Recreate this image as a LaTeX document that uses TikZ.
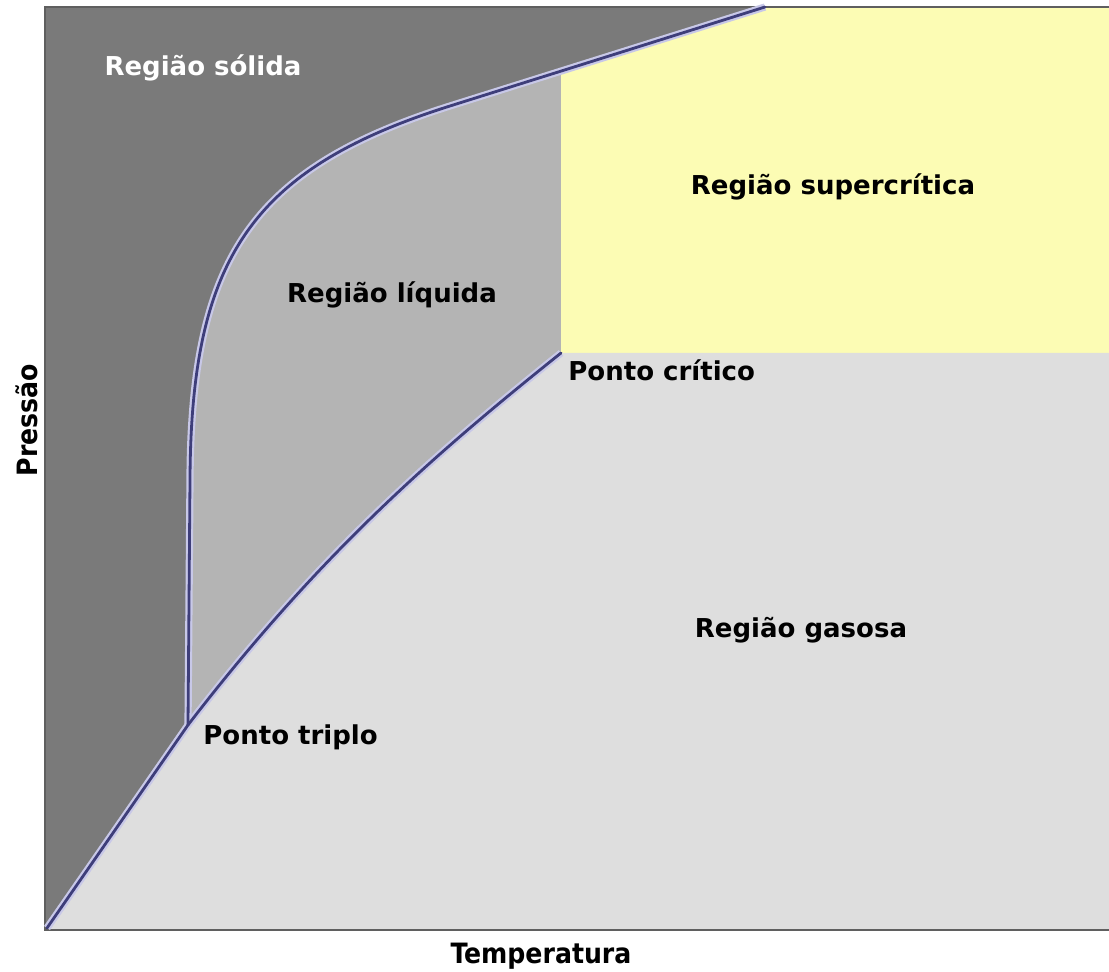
\documentclass[tikz,border=0pt]{standalone}
\usepackage{fontspec}
\setmainfont{DejaVu Sans}
\newfontfamily\condfont{DejaVu Sans Condensed}
\definecolor{solidgray}{RGB}{122,122,122}
\definecolor{liquidgray}{RGB}{180,180,180}
\definecolor{gasgray}{RGB}{222,222,222}
\definecolor{superyellow}{RGB}{252,252,180}
\definecolor{curveblue}{RGB}{62,62,122}
\definecolor{halolav}{RGB}{200,200,232}
\definecolor{framegray}{RGB}{95,95,95}
\begin{document}
\begin{tikzpicture}[x=0.5pt, y=-0.5pt,
    region/.style={font=\bfseries\fontsize{13}{15}\selectfont, text=black, inner sep=0pt},
    pointlabel/.style={region, anchor=west},
    axislabel/.style={font=\condfont\bfseries\fontsize{14}{16}\selectfont, inner sep=0pt},
    halo/.style={draw=halolav, line width=3.6pt, line join=round},
    curve/.style={draw=curveblue, line width=1.4pt, line join=round, line cap=round}]
    \useasboundingbox (0,0) rectangle (1109,972);
    \fill[white] (0,0) rectangle (1109,972);

    % key points of the diagram
    \coordinate (origin) at (47,928);
    \coordinate (triple) at (188,725);
    \coordinate (critical) at (561,353);
    \coordinate (meltbend) at (190,480);
    \coordinate (meltc) at (450,106);
    \coordinate (melttop) at (765,7);

    % regions
    \fill[solidgray] (45,7) rectangle (1109,930);
    \fill[liquidgray] (origin) -- (triple) -- (meltbend)
        .. controls (191,260) and (250,169) .. (meltc)
        -- (melttop) -- (1109,7) -- (1109,930) -- (47,930) -- cycle;
    \fill[superyellow] (561,70) -- (melttop) -- (1109,7) -- (1109,353) -- (critical) -- cycle;
    \fill[gasgray] (origin) -- (triple)
        .. controls (318,556) and (431,457) .. (critical)
        -- (1109,353) -- (1109,930) -- (47,930) -- cycle;

    % frame
    \draw[framegray, line width=1pt] (1109,7) -- (45,7) -- (45,930) -- (1109,930);

    % phase boundaries
    \foreach \s in {halo, curve} {
        \draw[\s] (origin) -- (triple);
        \draw[\s] (triple) -- (meltbend) .. controls (191,260) and (250,169) .. (meltc) -- (melttop);
        \draw[\s] (triple) .. controls (318,556) and (431,457) .. (critical);
    }

    % labels
    \node[region, text=white] (solid) at (203,68) {Região sólida};
    \node[region] (supercrit) at (833,187) {Região supercrítica};
    \node[region] (liquid) at (392,295) {Região líquida};
    \node[region] (gas) at (801,630) {Região gasosa};
    \node[pointlabel] (criticallabel) at (568,370) {Ponto crítico};
    \node[pointlabel] (triplelabel) at (203,737) {Ponto triplo};
    \node[axislabel] (temp) at (541,956) {Temperatura};
    \node[axislabel, rotate=90] (press) at (27,420) {Pressão};
\end{tikzpicture}
\end{document}
